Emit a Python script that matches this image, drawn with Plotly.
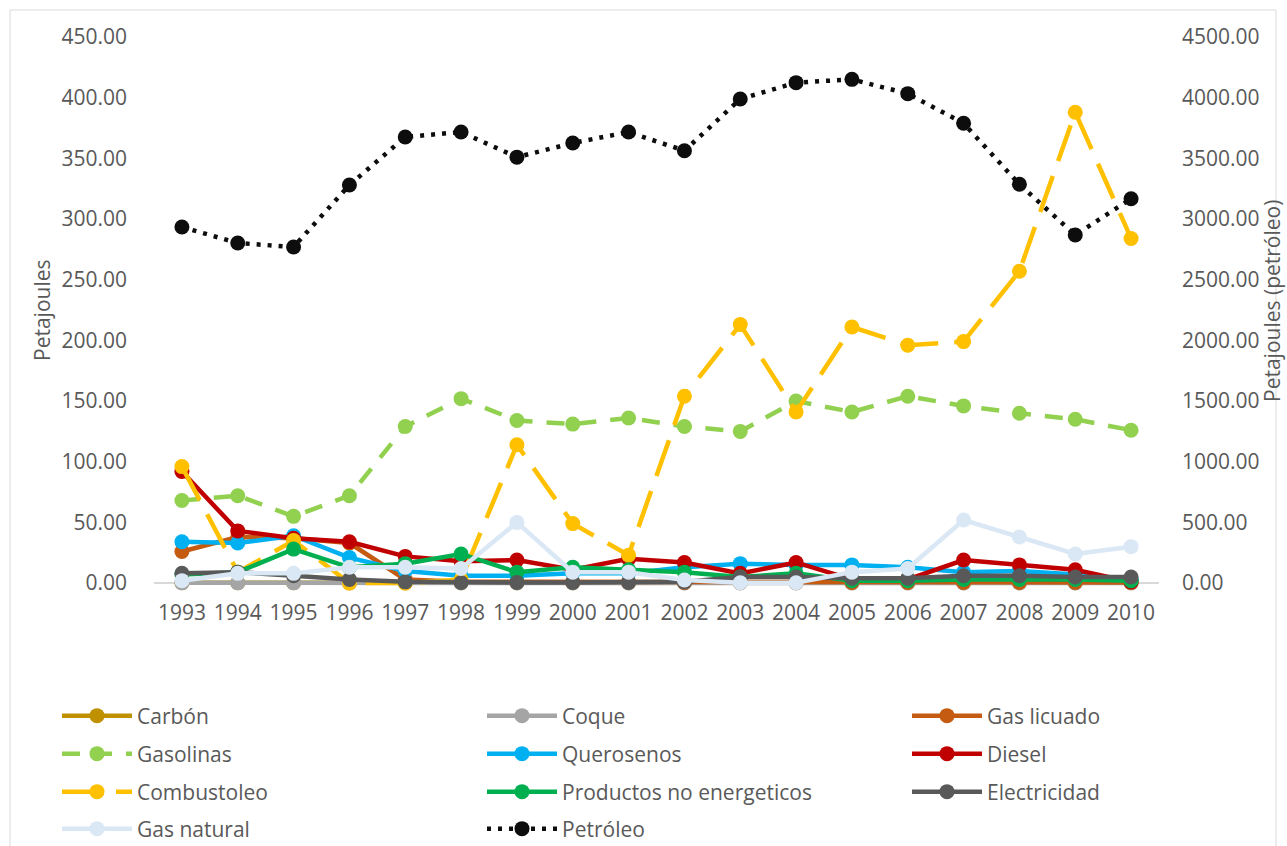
import plotly.graph_objects as go

years = [str(y) for y in range(1993, 2011)]

carbon = [0.3, 0.3, 0.3, 0.3, 0.3, 0.3, 0.3, 0.3, 0.3, 0.3, 0.3, 0.3, 0.3, 0.3, 0.3, 0.3, 0.3, 0.3]
coque = [0.2, 0.2, 0.2, 0.2, 0.1, 0.1, 0.1, 0.1, 0.1, 0.1, 0.1, 0.1, 0.1, 0.1, 0.1, 0.1, 0.1, 0.1]
gas_licuado = [26, 38, 37, 33, 3, 1, 1, 1, 1, 0.5, 0.5, 0.5, 0.5, 0.5, 0.5, 0.5, 0.5, 0.5]
gasolinas = [68, 72, 55, 72, 129, 152, 134, 131, 136, 129, 125, 150, 141, 154, 146, 140, 135, 126]
querosenos = [34, 33, 39, 21, 10, 6, 6, 8, 8, 13, 16, 15, 15, 13, 9, 10, 7, 3]
diesel = [92, 43, 37, 34, 22, 18, 19, 11, 20, 17, 8, 17, 3, 3, 19, 15, 11, 1]
combustoleo = [96, 9, 35, 0, 0, 3, 114, 49, 23, 154, 213, 141, 211, 196, 199, 257, 388, 284]
productos = [7, 9, 28, 13, 16, 24, 9, 13, 11, 9, 5, 8, 2, 2, 3, 3, 3, 2]
electricidad = [8, 9, 6, 3, 1, 0.5, 0.5, 0.5, 0.5, 1, 5, 5, 4, 4, 6, 6, 5, 5]
gas_natural = [2, 8, 8, 13, 13, 12, 50, 9, 9, 2.5, 0.3, 0.3, 9, 12, 52, 38, 24, 30]
petroleo = [2934, 2802, 2770, 3280, 3676, 3717, 3510, 3626, 3717, 3563, 3989, 4124, 4151, 4033, 3789, 3286, 2868, 3167]

left_ticks = [0, 50, 100, 150, 200, 250, 300, 350, 400, 450]
right_ticks = [0, 500, 1000, 1500, 2000, 2500, 3000, 3500, 4000, 4500]

FONT = "Open Sans"
TXT = "#595959"
LW = 4.5
MS = 15

# name, values, colour, dash, secondary axis
series = [
    ("Carbón", carbon, "#BF9000", "solid", False),
    ("Coque", coque, "#A5A5A5", "solid", False),
    ("Gas licuado", gas_licuado, "#C55A11", "solid", False),
    ("Gasolinas", gasolinas, "#92D050", "18px,14px", False),
    ("Querosenos", querosenos, "#00B0F0", "solid", False),
    ("Diesel", diesel, "#C00000", "solid", False),
    ("Combustoleo", combustoleo, "#FFC000", "38px,16px", False),
    ("Productos no energeticos", productos, "#00B050", "solid", False),
    ("Electricidad", electricidad, "#595959", "solid", False),
    ("Gas natural", gas_natural, "#DAE7F4", "solid", False),
    ("Petróleo", petroleo, "#0D0D0D", "4px,7px", True),
]

L, R, T, B = 154, 1159, 37, 594
W, H = 1287, 846
pw, ph = R - L, B - T


def px(x):
    return (x - L) / pw


def py(y):
    return (B - y) / ph


col_x = [57, 482, 907]
row_y = [716, 754, 792, 829]

fig = go.Figure()
legends = {}
for i, (name, vals, col, dash, sec) in enumerate(series):
    lid = "legend" if i == 0 else f"legend{i + 1}"
    fig.add_trace(go.Scatter(
        x=years, y=vals, name=name, mode="lines+markers",
        yaxis="y2" if sec else "y",
        line=dict(color=col, width=LW, dash=dash),
        marker=dict(color=col, size=MS),
        cliponaxis=False, legend=lid,
    ))
    legends[lid] = dict(
        orientation="h", itemwidth=70, xanchor="left", yanchor="middle",
        x=px(col_x[i % 3]), y=py(row_y[i // 3]),
        font=dict(family=FONT, size=21, color=TXT),
        bgcolor="rgba(0,0,0,0)", borderwidth=0,
    )

fig.update_layout(
    width=W, height=H, autosize=False,
    margin=dict(l=L, r=W - R, t=T, b=H - B, autoexpand=False),
    paper_bgcolor="white", plot_bgcolor="white",
    font=dict(family=FONT, size=21, color=TXT),
    showlegend=True,
    xaxis=dict(type="category", range=[-0.5, 17.5], showgrid=False, showline=False,
               ticks="", zeroline=False, ticklabelstandoff=4,
               tickfont=dict(family=FONT, size=21, color=TXT)),
    yaxis=dict(range=[-9, 450], tickvals=left_ticks, tickformat=".2f", showgrid=False,
               zeroline=True, zerolinecolor="#D9D9D9", zerolinewidth=1.5,
               showline=False, ticks="", ticklabelstandoff=26,
               tickfont=dict(family=FONT, size=21, color=TXT)),
    yaxis2=dict(range=[-90, 4500], tickvals=right_ticks, tickformat=".2f", showgrid=False,
                zeroline=False, showline=False, ticks="", overlaying="y", side="right",
                ticklabelstandoff=22,
                tickfont=dict(family=FONT, size=21, color=TXT)),
    annotations=[
        dict(text="Petajoules", xref="paper", yref="paper", x=px(42), y=py(310),
             textangle=-90, showarrow=False, xanchor="center", yanchor="middle",
             font=dict(family=FONT, size=21, color=TXT)),
        dict(text="Petajoules (petróleo)", xref="paper", yref="paper", x=px(1272), y=py(301),
             textangle=-90, showarrow=False, xanchor="center", yanchor="middle",
             font=dict(family=FONT, size=21, color=TXT)),
    ],
    shapes=[dict(type="rect", xref="paper", yref="paper",
                 x0=px(10), x1=px(1276), y0=py(852), y1=py(10),
                 line=dict(color="#D9D9D9", width=1), fillcolor="rgba(0,0,0,0)",
                 layer="below")],
)
fig.update_layout(**legends)

fig.write_html("out.html")
